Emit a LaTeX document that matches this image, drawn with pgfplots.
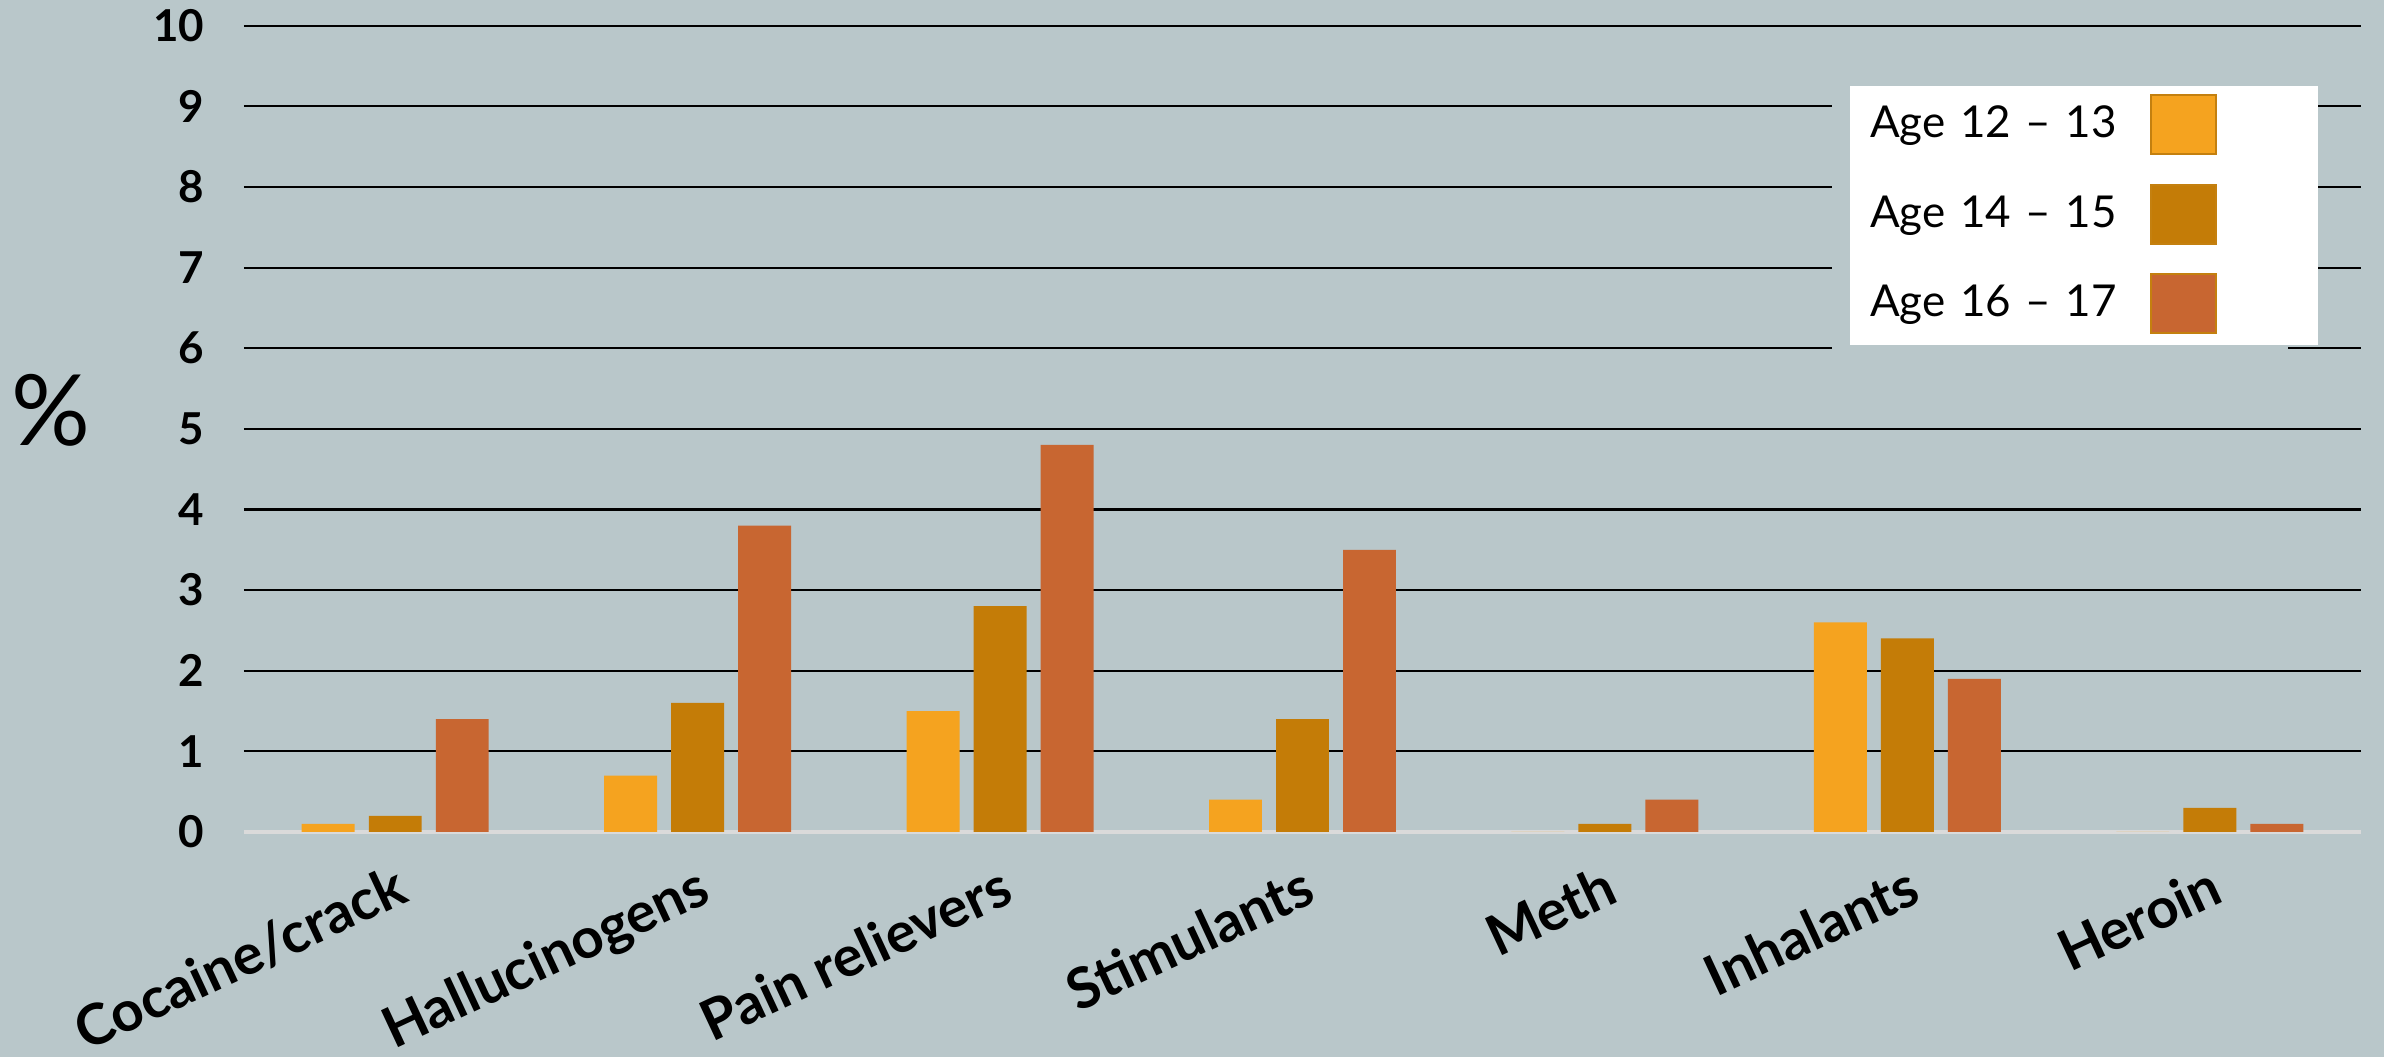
\documentclass[border=0pt]{standalone}
\usepackage{fontspec}
\setmainfont{Lato}
\usepackage{pgfplots}
\usepackage{pgfplotstable}
\pgfplotsset{compat=1.18}
\definecolor{bg}{HTML}{B9C7CA}
\definecolor{cyellow}{HTML}{F5A31F}
\definecolor{cgold}{HTML}{C47C07}
\definecolor{crust}{HTML}{C86631}
\definecolor{zeroline}{HTML}{DADADA}
\definecolor{legborder}{HTML}{C4800F}

\pgfplotstableread{
x a b c
0 0.1 0.2 1.4
1 0.7 1.6 3.8
2 1.5 2.8 4.8
3 0.4 1.4 3.5
4 0 0.1 0.4
5 2.6 2.4 1.9
6 0 0.3 0.1
}\datatable

\begin{document}
\begin{tikzpicture}
\fill[bg] (0,0) rectangle (23.84,10.57);
\useasboundingbox (0,0) rectangle (23.84,10.57);
\begin{axis}[
  at={(2.44cm,2.25cm)}, anchor=south west,
  scale only axis, width=21.17cm, height=8.063cm,
  xmin=-0.5, xmax=6.5, ymin=0, ymax=10,
  axis line style={draw=none},
  tick style={draw=none},
  major tick length=0pt,
  ytick={1,...,10},
  extra y ticks={0},
  extra y tick style={ymajorgrids=true, major grid style={color=zeroline, line width=1.2pt}},
  ymajorgrids,
  major grid style={black, line width=0.6pt},
  /pgf/number format/assume math mode=true,
  yticklabel style={font=\fontsize{12.5}{14}\selectfont\bfseries, anchor=east, inner sep=0pt, xshift=-0.39cm},
  xtick={0,...,6},
  xticklabels={Cocaine/crack, Hallucinogens, Pain relievers, Stimulants, Meth, Inhalants, Heroin},
  xticklabel style={font=\fontsize{16}{18}\selectfont\bfseries, inner sep=0pt, xshift=-0.02cm, yshift=-0.30cm, rotate=25, anchor=north east},
  ylabel={\%},
  ylabel style={at={(axis description cs:-0.0912,0.5234)}, anchor=center, rotate=-90, font=\fontsize{28}{30}\selectfont},
  legend style={at={(axis description cs:0.7681,0.9153)}, anchor=north west, fill=none, draw=none,
    inner sep=0pt, outer sep=0pt, row sep=0.285cm, font=\fontsize{12.5}{15}\selectfont,
    nodes={inner sep=0pt},
    /tikz/every odd column/.append style={text width=2.8cm}},
  legend plot pos=right,
  legend cell align=left,
  legend image code/.code={\draw[#1, draw=legborder, line width=0.6pt] (0cm,-0.295cm) rectangle (0.65cm,0.295cm);},
]
\addplot[ybar, bar width=0.175, bar shift=-0.2216, fill=cyellow, draw=none] table[x=x, y=a] {\datatable};
\addlegendentry{Age 12 -- 13}
\addplot[ybar, bar width=0.175, bar shift=0, fill=cgold, draw=none] table[x=x, y=b] {\datatable};
\addlegendentry{Age 14 -- 15}
\addplot[ybar, bar width=0.175, bar shift=0.2216, fill=crust, draw=none] table[x=x, y=c] {\datatable};
\addlegendentry{Age 16 -- 17}
\fill[bg] (axis cs:4.751,5.953) rectangle (axis cs:6.259,9.327);
\fill[white] (axis cs:4.810,6.040) rectangle (axis cs:6.358,9.252);
\end{axis}
\end{tikzpicture}
\end{document}
